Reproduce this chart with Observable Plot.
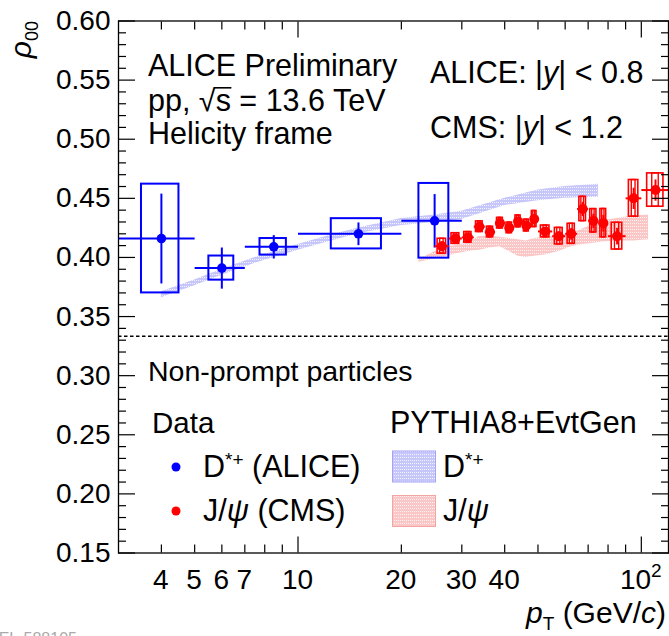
<!DOCTYPE html>
<html><head><meta charset="utf-8">
<script src="https://cdn.jsdelivr.net/npm/d3@7"></script>
<script src="https://cdn.jsdelivr.net/npm/@observablehq/plot@0.6"></script>
<style>body{margin:0;background:#fff} svg{display:block}</style>
</head><body><div id="chart"></div>
<script>
// ---- ALICE D*+ (non-prompt) ----
const dstarPt   = [4, 6, 8.5, 15, 25];
const dstarPtLo = [3, 5, 7, 10, 20];
const dstarPtHi = [5, 7, 10, 20, 30];
const dstarRho  = [0.416, 0.391, 0.409, 0.420, 0.431];
const dstarStat = [0.038, 0.0174, 0.0099, 0.0096, 0.0226];
const dstarSyst = [0.046, 0.0102, 0.0070, 0.0128, 0.0316];

// ---- CMS J/psi (non-prompt) ----
const jpsiPtLo = [25, 27.5, 30, 32.5, 35, 37.5, 40, 42.5, 45, 47.5, 50, 55, 60, 65, 70, 75, 80, 90, 100];
const jpsiPtHi = [27.5, 30, 32.5, 35, 37.5, 40, 42.5, 45, 47.5, 50, 55, 60, 65, 70, 75, 80, 90, 100, 120];
const jpsiRho  = [0.4095, 0.416, 0.417, 0.426, 0.4215, 0.429, 0.425, 0.4305, 0.427, 0.4325, 0.422, 0.418, 0.420, 0.441, 0.431, 0.429, 0.418, 0.450, 0.457];
const jpsiStat = [0.004, 0.003, 0.003, 0.003, 0.003, 0.003, 0.003, 0.003, 0.003, 0.004, 0.003, 0.004, 0.005, 0.006, 0.006, 0.007, 0.007, 0.009, 0.009];
const jpsiSyst = [0.0063, 0.0045, 0.0045, 0.0045, 0.0045, 0.0045, 0.0045, 0.005, 0.005, 0.0068, 0.005, 0.007, 0.0085, 0.0103, 0.0099, 0.012, 0.0113, 0.0155, 0.0141];

// ---- PYTHIA8+EvtGen bands ----
const dstarBandPt = [4, 5, 6, 7.5, 10, 12.5, 15, 20, 25, 30, 40, 50, 60, 75];
const dstarBandLo = [0.366, 0.376, 0.385, 0.395, 0.406, 0.414, 0.420, 0.427, 0.4295, 0.432, 0.444, 0.448, 0.450, 0.451];
const dstarBandHi = [0.371, 0.381, 0.390, 0.400, 0.411, 0.419, 0.425, 0.433, 0.436, 0.439, 0.450, 0.457, 0.460, 0.462];

const jpsiBandPt = [22.5, 26.25, 28.75, 31.25, 33.75, 36.25, 38.75, 41.25, 43.75, 46.25, 48.75, 52.5, 57.5, 62.5, 67.5, 72.5, 77.5, 85, 95, 105];
const jpsiBandLo = [0.396, 0.400, 0.403, 0.405, 0.406, 0.408, 0.409, 0.405, 0.401, 0.400, 0.401, 0.402, 0.405, 0.409, 0.411, 0.412, 0.413, 0.414, 0.414, 0.415];
const jpsiBandHi = [0.398, 0.408, 0.410, 0.412, 0.418, 0.418, 0.417, 0.416, 0.415, 0.414, 0.416, 0.417, 0.418, 0.420, 0.424, 0.428, 0.431, 0.433, 0.435, 0.436];

// ---- axes ----
const yMajor = [0.15, 0.20, 0.25, 0.30, 0.35, 0.40, 0.45, 0.50, 0.55, 0.60];
const yMinor = d3.range(15, 61).map(d => d / 100).filter(v => !yMajor.some(m => Math.abs(m - v) < 1e-9));
const xMajor = [10, 100];
const xMinor = [4, 5, 6, 7, 8, 9, 20, 30, 40, 50, 60, 70, 80, 90];
const xLabels = [4, 5, 6, 7, 10, 20, 30, 40, 100];
const yRef = [1 / 3];

// ---- tables ----
const dstar = dstarPt.map((pt, i) => ({pt, lo: dstarPtLo[i], hi: dstarPtHi[i], rho: dstarRho[i], stat: dstarStat[i], syst: dstarSyst[i]}));
const jpsi = jpsiPtLo.map((lo, i) => ({pt: (lo + jpsiPtHi[i]) / 2, lo, hi: jpsiPtHi[i], rho: jpsiRho[i], stat: jpsiStat[i], syst: jpsiSyst[i]}));
const dstarBand = dstarBandPt.map((pt, i) => ({pt, lo: dstarBandLo[i], hi: dstarBandHi[i]}));
const jpsiBand = jpsiBandPt.map((pt, i) => ({pt, lo: jpsiBandLo[i], hi: jpsiBandHi[i]}));

const BLUE = "#0000ff", RED = "#ff0000";
const FONT = "'Liberation Sans', Arial, Helvetica, sans-serif";
const TS = 28; // tick font size

const plot = Plot.plot({
  width: 669, height: 636,
  marginLeft: 118, marginRight: 1, marginTop: 20.5, marginBottom: 83.5,
  x: {type: "log", domain: [3, 120]},
  y: {domain: [0.15, 0.60]},
  style: {fontFamily: FONT, background: "white", color: "black"},
  marks: [
    Plot.areaY(dstarBand, {x: "pt", y1: "lo", y2: "hi", fill: "url(#patBlue)"}),
    Plot.areaY(jpsiBand, {x: "pt", y1: "lo", y2: "hi", fill: "url(#patRed)"}),
    Plot.ruleY(yRef, {stroke: "black", strokeWidth: 1.3, strokeDasharray: "3.5,2.5"}),
    // D*+
    Plot.rect(dstar, {x1: d => d.pt - 0.25 * (d.hi - d.lo), x2: d => d.pt + 0.25 * (d.hi - d.lo), y1: d => d.rho - d.syst, y2: d => d.rho + d.syst, fill: "none", stroke: BLUE, strokeWidth: 2}),
    Plot.link(dstar, {x1: "lo", x2: "hi", y1: "rho", y2: "rho", stroke: BLUE, strokeWidth: 2}),
    Plot.link(dstar, {x1: "pt", x2: "pt", y1: d => d.rho - d.stat, y2: d => d.rho + d.stat, stroke: BLUE, strokeWidth: 2}),
    Plot.dot(dstar, {x: "pt", y: "rho", r: 4.8, fill: BLUE}),
    // J/psi
    Plot.rect(jpsi, {x1: d => d.pt - 0.3 * (d.hi - d.lo), x2: d => d.pt + 0.3 * (d.hi - d.lo), y1: d => d.rho - d.syst, y2: d => d.rho + d.syst, fill: "none", stroke: RED, strokeWidth: 1.6}),
    Plot.rect(jpsi, {x1: d => d.pt - 0.12 * (d.hi - d.lo), x2: d => d.pt + 0.12 * (d.hi - d.lo), y1: d => d.rho - d.syst, y2: d => d.rho + d.syst, fill: "none", stroke: RED, strokeWidth: 1.4}),
    Plot.link(jpsi, {x1: "lo", x2: "hi", y1: "rho", y2: "rho", stroke: RED, strokeWidth: 2}),
    Plot.link(jpsi, {x1: "pt", x2: "pt", y1: d => d.rho - d.stat, y2: d => d.rho + d.stat, stroke: RED, strokeWidth: 2}),
    Plot.dot(jpsi, {x: "pt", y: "rho", r: 5, fill: RED}),
    // axes: y
    Plot.axisY({ticks: yMajor, anchor: "left", tickSize: -17, tickPadding: 25, tickFormat: d3.format(".2f"), fontSize: TS, label: null, strokeWidth: 1.2}),
    Plot.axisY({ticks: yMinor, anchor: "left", tickSize: -8, tickFormat: () => "", label: null, strokeWidth: 1.2}),
    Plot.axisY({ticks: yMajor, anchor: "right", tickSize: -17, tickFormat: () => "", label: null, strokeWidth: 1.2}),
    Plot.axisY({ticks: yMinor, anchor: "right", tickSize: -8, tickFormat: () => "", label: null, strokeWidth: 1.2}),
    // axes: x
    Plot.axisX({ticks: xMajor, anchor: "bottom", tickSize: -16, tickFormat: () => "", label: null, strokeWidth: 1.2}),
    Plot.axisX({ticks: xMinor, anchor: "bottom", tickSize: -8, tickFormat: () => "", label: null, strokeWidth: 1.2}),
    Plot.axisX({ticks: xMajor, anchor: "top", tickSize: -16, tickFormat: () => "", label: null, strokeWidth: 1.2}),
    Plot.axisX({ticks: xMinor, anchor: "top", tickSize: -8, tickFormat: () => "", label: null, strokeWidth: 1.2}),
    Plot.frame({stroke: "black", strokeWidth: 1.3})
  ]
});

document.getElementById("chart").appendChild(plot);

// ---- patterns, annotations, legend ----
const svg = d3.select(plot);
const defs = svg.insert("defs", ":first-child");
function pattern(id, bg) {
  const p = defs.append("pattern").attr("id", id).attr("patternUnits", "userSpaceOnUse").attr("width", 2).attr("height", 3);
  p.append("rect").attr("width", 2).attr("height", 3).attr("fill", bg);
  p.append("rect").attr("x", 0).attr("y", 1).attr("width", 1).attr("height", 1).attr("fill", "white").attr("opacity", 0.8);
}
pattern("patBlue", "#c6c6fb");
pattern("patRed", "#fbc6c6");

const g = svg.append("g").attr("font-family", FONT).attr("fill", "black");
function label(x, y, parts, size = 30.5, anchor = "start") {
  const t = g.append("text").attr("x", x).attr("y", y).attr("font-size", size).attr("text-anchor", anchor);
  let shift = 0;
  const spans = [];
  for (const p of parts) {
    const s = t.append("tspan").text(p.t);
    let target = 0;
    if (p.sup) target = -p.sup;
    if (p.sub) target = p.sub;
    if (target !== shift) { s.attr("dy", target - shift); shift = target; }
    if (p.size) s.attr("font-size", p.size);
    if (p.it) s.attr("font-style", "italic");
    spans.push(s);
  }
  t.spans = spans;
  return t;
}

// x tick labels placed through the plot's own x scale
const sx = plot.scale("x");
for (const v of xLabels) {
  const parts = v === 100 ? [{t: "10"}, {t: "2", sup: 12, size: 19}] : [{t: String(v)}];
  label(sx.apply(v), 589, parts, TS, "middle");
}

label(148, 76, [{t: "ALICE Preliminary"}]);
const ppLine = label(148, 111, [{t: "pp, √"}, {t: "s"}, {t: " = 13.6 TeV"}]);
// radical bar over "s"
{
  const sNode = ppLine.spans[1].node();
  const rootNode = ppLine.spans[0].node();
  const n = rootNode.getNumberOfChars();
  const rootBox = rootNode.getExtentOfChar(n - 1);
  const sBox = sNode.getExtentOfChar(0);
  g.append("line")
    .attr("x1", rootBox.x + rootBox.width - 1.5).attr("x2", sBox.x + sBox.width + 0.5)
    .attr("y1", 111 - 23.2).attr("y2", 111 - 23.2)
    .attr("stroke", "black").attr("stroke-width", 1.6);
}
label(148, 144, [{t: "Helicity frame"}]);
label(430, 83, [{t: "ALICE: |"}, {t: "y", it: true}, {t: "| < 0.8"}]);
label(430, 138, [{t: "CMS: |"}, {t: "y", it: true}, {t: "| < 1.2"}]);
label(148, 381, [{t: "Non-prompt particles"}], 28.5);
label(152, 433, [{t: "Data"}], 29.5);
label(390, 433, [{t: "PYTHIA8+EvtGen"}]);

g.append("circle").attr("cx", 176).attr("cy", 467).attr("r", 4.5).attr("fill", BLUE);
g.append("circle").attr("cx", 176).attr("cy", 511).attr("r", 4.5).attr("fill", RED);
label(203, 477, [{t: "D"}, {t: "*+", sup: 11, size: 19}, {t: " (ALICE)"}]);
label(203, 521, [{t: "J/"}, {t: "ψ", it: true}, {t: " (CMS)"}]);

g.append("rect").attr("x", 392.5).attr("y", 451).attr("width", 43).attr("height", 31).attr("fill", "url(#patBlue)").attr("stroke", "#a4a4f5").attr("stroke-width", 1);
g.append("rect").attr("x", 392.5).attr("y", 495.5).attr("width", 43).attr("height", 31).attr("fill", "url(#patRed)").attr("stroke", "#f5a4a4").attr("stroke-width", 1);
label(443, 477, [{t: "D"}, {t: "*+", sup: 11, size: 19}]);
label(443, 521, [{t: "J/"}, {t: "ψ", it: true}]);

// axis titles
label(666, 623, [{t: "p", it: true}, {t: "T", sub: 7, size: 19}, {t: " (GeV/", sub: 0}, {t: "c", it: true}, {t: ")"}], 30, "end");
const yt = label(0, 0, [{t: "ρ", it: true}, {t: "00", sub: 7, size: 18}], 30, "end");
yt.attr("x", null).attr("y", null).attr("transform", "translate(31,21) rotate(-90)");

g.append("text").attr("x", 12).attr("y", 644).attr("font-size", 16).attr("fill", "#aaa").text("ALI-PREL-588105");
</script>
</body></html>
